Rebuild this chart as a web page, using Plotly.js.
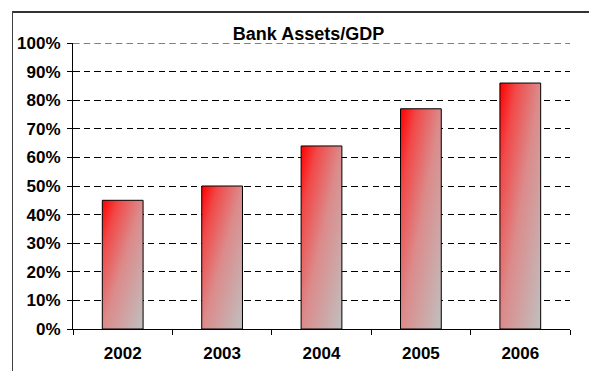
<!DOCTYPE html>
<html>
<head>
<meta charset="utf-8">
<script src="https://cdn.plot.ly/plotly-3.0.1.min.js"></script>
<style>
html,body{margin:0;padding:0;background:#fff;}
#wrap{position:relative;width:589px;height:371px;overflow:hidden;}
#chart{width:589px;height:371px;}
#frameTop{position:absolute;left:12px;top:11px;width:600px;height:0;border-top:2px solid #333;pointer-events:none;z-index:10;}
#frameLeft{position:absolute;left:12px;top:11px;width:0;height:400px;border-left:1.5px solid #404040;pointer-events:none;z-index:10;}
</style>
</head>
<body>
<div id="wrap"><div id="chart"></div><div id="frameTop"></div><div id="frameLeft"></div></div>
<script>
var years = ['2002', '2003', '2004', '2005', '2006'];
var assetsToGdp = [0.45, 0.50, 0.64, 0.77, 0.86];
var chartTitle = 'Bank Assets/GDP';
var yMax = 1.0;

var font = {family: 'Liberation Sans, Arial, sans-serif', size: 17, color: '#000'};
var dash = '6.5px,4.2px';

var trace = {
  type: 'bar',
  x: years,
  y: assetsToGdp,
  width: 0.41,
  marker: {color: '#f04848', line: {color: '#000', width: 1}},
  hoverinfo: 'none'
};

var layout = {
  width: 589, height: 371,
  margin: {l: 73, r: 19, t: 43, b: 42, pad: 0},
  paper_bgcolor: '#fff', plot_bgcolor: '#fff',
  showlegend: false,
  bargap: 0.59,
  title: {text: '<b>' + chartTitle + '</b>', font: {family: font.family, size: 18, color: '#000'},
          x: 0.474, xref: 'paper', xanchor: 'center', y: 0.91, yref: 'container', yanchor: 'middle'},
  xaxis: {
    type: 'category',
    showline: true, linecolor: '#000', linewidth: 1,
    ticks: 'outside', tickson: 'boundaries', ticklen: 5, tickcolor: '#000', tickwidth: 1,
    showgrid: false, zeroline: false,
    tickfont: font, ticklabelstandoff: 9,
    tickprefix: '<b>', ticksuffix: '</b>'
  },
  yaxis: {
    range: [0, yMax], dtick: 0.1, tick0: 0, tickformat: '.0%',
    showline: true, linecolor: '#000', linewidth: 1,
    ticks: 'outside', ticklen: 5, tickcolor: '#000', tickwidth: 1,
    showgrid: true, gridcolor: '#000', gridwidth: 1, griddash: dash,
    zeroline: false,
    tickfont: font, ticklabelstandoff: 3,
    tickprefix: '<b>', ticksuffix: '</b>'
  },
  shapes: [
    {type: 'line', xref: 'paper', yref: 'y', x0: 0, x1: 1, y0: yMax, y1: yMax,
     line: {color: '#000', width: 1, dash: dash}, layer: 'below'}
  ]
};

Plotly.newPlot('chart', [trace], layout, {staticPlot: true, displayModeBar: false}).then(function (gd) {
  var svg = gd.querySelector('svg.main-svg');
  var ns = 'http://www.w3.org/2000/svg';
  var defs = svg.querySelector('defs') || svg.insertBefore(document.createElementNS(ns, 'defs'), svg.firstChild);
  var grad = document.createElementNS(ns, 'linearGradient');
  grad.setAttribute('id', 'barGrad');
  grad.setAttribute('x1', '0'); grad.setAttribute('y1', '0');
  grad.setAttribute('x2', '1'); grad.setAttribute('y2', '1');
  [['0', '#ff0000'], ['0.2', '#f24848'], ['0.5', '#dc8a8a'], ['1', '#c0c0c0']].forEach(function (st) {
    var s = document.createElementNS(ns, 'stop');
    s.setAttribute('offset', st[0]); s.setAttribute('stop-color', st[1]);
    grad.appendChild(s);
  });
  defs.appendChild(grad);
  gd.querySelectorAll('.bars .point path').forEach(function (p) {
    p.style.fill = 'url(#barGrad)';
    p.style.fillOpacity = 1;
  });
});
</script>
</body>
</html>
